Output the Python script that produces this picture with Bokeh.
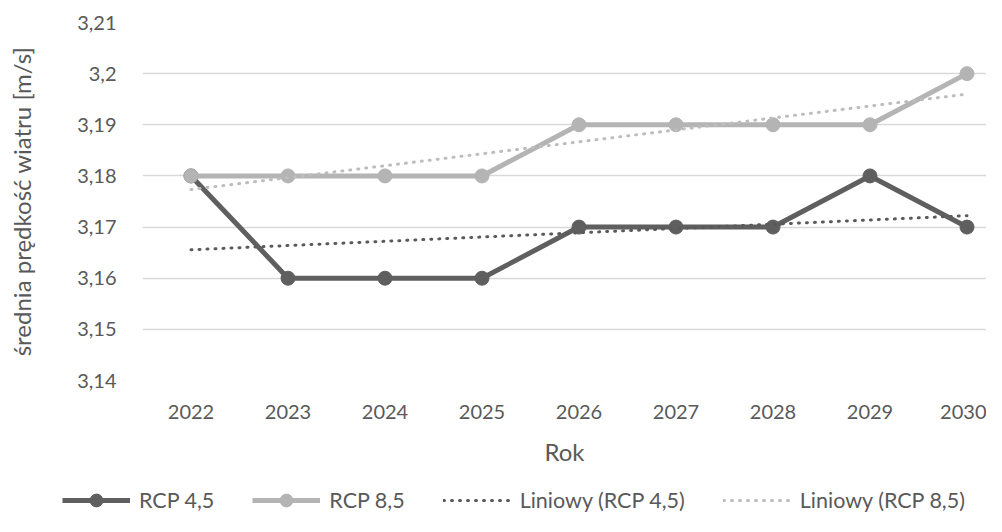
import numpy as np
from bokeh.plotting import figure
from bokeh.layouts import column
from bokeh.models import Range1d, FixedTicker, Legend, LegendItem
from bokeh.embed import file_html
from bokeh.resources import INLINE

years = [2022, 2023, 2024, 2025, 2026, 2027, 2028, 2029, 2030]
rcp45 = [3.18, 3.16, 3.16, 3.16, 3.17, 3.17, 3.17, 3.18, 3.17]
rcp85 = [3.18, 3.18, 3.18, 3.18, 3.19, 3.19, 3.19, 3.19, 3.20]
y_ticks = [3.14, 3.15, 3.16, 3.17, 3.18, 3.19, 3.20, 3.21]
y_tick_labels = ["3,14", "3,15", "3,16", "3,17", "3,18", "3,19", "3,2", "3,21"]
series_names = ["RCP 4,5", "RCP 8,5", "Liniowy (RCP 4,5)", "Liniowy (RCP 8,5)"]

FONT = "Lato"
TXT = "#595959"
C45 = "#5f5f5f"
C85 = "#b4b4b4"
T45 = "#5a5a5a"
T85 = "#bdbdbd"

W = 986
H_MAIN, H_LEG = 476, 40
left, top, bottom = 142, 22, 96
cat_px = 97.0
frame_w = W - left

p = figure(width=W, height=H_MAIN, output_backend="svg", toolbar_location=None,
           min_border_left=left, min_border_right=0, min_border_top=top,
           min_border_bottom=bottom,
           x_range=Range1d(years[0] - 0.5, years[0] - 0.5 + frame_w / cat_px),
           y_range=Range1d(y_ticks[0], y_ticks[-1]))
p.frame_align = False
p.outline_line_color = None
p.background_fill_color = "white"
p.border_fill_color = "white"

# axes
p.xaxis.ticker = FixedTicker(ticks=years)
p.xaxis.formatter.use_scientific = False
p.yaxis.ticker = FixedTicker(ticks=y_ticks)
p.yaxis.major_label_overrides = {t: l for t, l in zip(y_ticks, y_tick_labels)}
for ax in (p.xaxis[0], p.yaxis[0]):
    ax.axis_line_color = None
    ax.major_tick_line_color = None
    ax.minor_tick_line_color = None
    ax.major_label_text_font = FONT
    ax.major_label_text_font_size = "20px"
    ax.major_label_text_color = TXT
    ax.axis_label_text_font = FONT
    ax.axis_label_text_font_size = "24px"
    ax.axis_label_text_color = TXT
    ax.axis_label_text_font_style = "normal"
p.xaxis.axis_label = "Rok"
p.xaxis.major_label_standoff = 18
p.xaxis.axis_label_standoff = 15
p.yaxis.axis_label = "średnia prędkość wiatru [m/s]"
p.yaxis.major_label_standoff = 20
p.yaxis.axis_label_standoff = 38

p.xgrid.grid_line_color = None
p.ygrid.grid_line_color = "#d9d9d9"
p.ygrid.grid_line_width = 1.3

# series
p.line(years, rcp45, line_color=C45, line_width=5, line_join="round")
p.scatter(years, rcp45, size=14, fill_color=C45, line_color=C45)
p.line(years, rcp85, line_color=C85, line_width=5, line_join="round")
p.scatter(years, rcp85, size=14, fill_color=C85, line_color=C85)

# linear trend lines (least squares fit of the series, as Excel does)
xs = np.array(years, dtype=float)
k45, b45 = np.polyfit(xs, rcp45, 1)
k85, b85 = np.polyfit(xs, rcp85, 1)
tx = [years[0], years[-1]]
p.line(tx, [k45 * x + b45 for x in tx], line_color=T45, line_width=3,
       line_dash="1 7", line_cap="round")
p.line(tx, [k85 * x + b85 for x in tx], line_color=T85, line_width=3,
       line_dash="1 7", line_cap="round")

# legend strip below the chart (its renderers sit outside the visible range)
lg = figure(width=W, height=H_LEG, output_backend="svg", toolbar_location=None,
            min_border=0, x_axis_type=None, y_axis_type=None,
            x_range=Range1d(0, 1), y_range=Range1d(0, 1))
lg.frame_align = False
lg.outline_line_color = None
lg.xgrid.visible = False
lg.ygrid.visible = False
off = dict(x=[-5, -4], y=[-5, -5])
r1l = lg.line(line_color=C45, line_width=5, **off)
r1s = lg.scatter(size=14, fill_color=C45, line_color=C45, **off)
r2l = lg.line(line_color=C85, line_width=5, **off)
r2s = lg.scatter(size=14, fill_color=C85, line_color=C85, **off)
r3 = lg.line(line_color=T45, line_width=3, line_dash="1 7", line_cap="round", **off)
r4 = lg.line(line_color=T85, line_width=3, line_dash="1 7", line_cap="round", **off)

legend = Legend(items=[
    LegendItem(label=series_names[0], renderers=[r1l, r1s]),
    LegendItem(label=series_names[1], renderers=[r2l, r2s]),
    LegendItem(label=series_names[2], renderers=[r3]),
    LegendItem(label=series_names[3], renderers=[r4]),
], orientation="horizontal", location=(62, 0), glyph_width=68, glyph_height=32,
    label_standoff=9, spacing=38, padding=0, margin=0,
    border_line_alpha=0, background_fill_alpha=0,
    label_text_font=FONT, label_text_font_size="21.5px", label_text_color=TXT)
lg.add_layout(legend, "center")

layout = column(p, lg, spacing=0)
open("out.html", "w").write(file_html(layout, INLINE))
